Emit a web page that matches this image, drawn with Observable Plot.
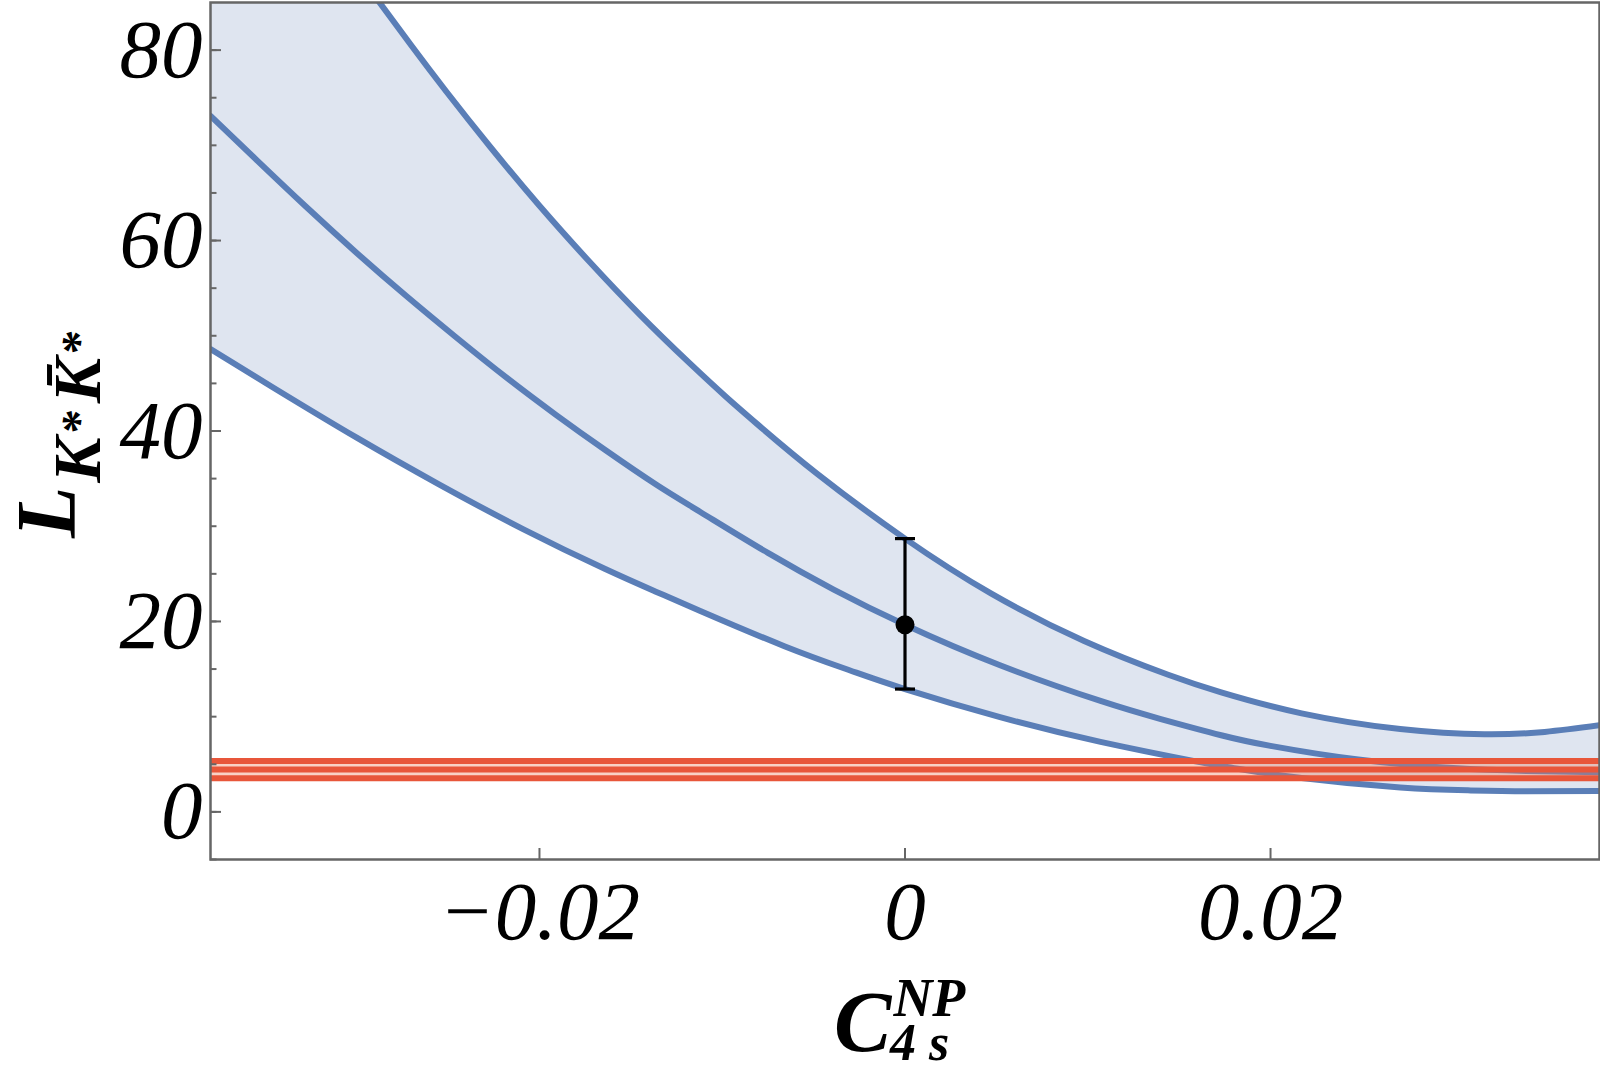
<!DOCTYPE html>
<html>
<head>
<meta charset="utf-8">
<script src="https://cdn.jsdelivr.net/npm/d3@7"></script>
<script src="https://cdn.jsdelivr.net/npm/@observablehq/plot@0.6"></script>
<style>
  html, body { margin: 0; padding: 0; background: white; }
  #chart { width: 1600px; height: 1078px; }
</style>
</head>
<body>
<div id="chart"></div>
<script>
// ---- data ----
const xDomain = [-0.038, 0.038];
const yDomain = [-5, 85];
const xTicks = [-0.02, 0, 0.02];
const xTickLabels = ["\u22120.02", "0", "0.02"];
const yTicks = [0, 20, 40, 60, 80];
const yMinorTicks = [-5, 0, 5, 10, 15, 20, 25, 30, 35, 40, 45, 50, 55, 60, 65, 70, 75, 80];

const upperX = [-0.0290, -0.0270, -0.0251, -0.0227, -0.0200, -0.0173, -0.0145, -0.0118, -0.0098, -0.0081, -0.0048, 0, 0.0047, 0.0098, 0.0144, 0.0173, 0.0217, 0.0271, 0.0317, 0.0350, 0.0380];
const upperY = [85.65, 80.45, 75.65, 69.85, 63.65, 57.85, 52.2, 47.15, 43.6, 40.75, 35.5, 28.7, 22.95, 17.95, 14.4, 12.55, 10.35, 8.7, 8.15, 8.4, 9.1];

const middleX = [-0.038, -0.0355, -0.0328, -0.0300, -0.0273, -0.0246, -0.0218, -0.0191, -0.0164, -0.0136, -0.0112, -0.0075, -0.0039, 0, 0.0052, 0.0107, 0.0140, 0.0173, 0.0200, 0.0248, 0.0300, 0.0340, 0.0380];
const middleY = [73.1, 68.5, 63.6, 58.7, 54.2, 49.9, 45.6, 41.7, 38.0, 34.35, 31.5, 27.2, 23.35, 19.65, 15.4, 11.65, 9.75, 8.05, 6.93, 5.5, 4.6, 4.3, 4.17];

const lowerX = [-0.038, -0.0346, -0.0300, -0.0255, -0.0209, -0.0164, -0.0136, -0.0112, -0.0066, -0.0030, 0, 0.0052, 0.0107, 0.0162, 0.0180, 0.0217, 0.0271, 0.0308, 0.0340, 0.0380];
const lowerY = [48.6, 44.6, 39.3, 34.4, 29.7, 25.5, 23.1, 21.1, 17.4, 14.85, 12.9, 9.95, 7.35, 5.2, 4.6, 3.55, 2.56, 2.26, 2.16, 2.2];

const measurement = [{x: 0, y: 19.65, lo: 12.9, hi: 28.7}];
const redBand = [3.53, 4.45, 5.35];

// ---- styles ----
const blue = "#5a7eb7";
const bandFill = "#dfe5f0";
const red = "#e8563a";
const frameGray = "#666666";
const curve = "natural";
const serif = "'Liberation Serif', 'Times New Roman', serif";

const toPts = (xs, ys) => xs.map((x, i) => ({x, y: ys[i]}));
const upper = toPts(upperX, upperY);
const middle = toPts(middleX, middleY);
const lower = toPts(lowerX, lowerY);
const caps = measurement.flatMap(d => [{x: d.x, y: d.lo}, {x: d.x, y: d.hi}]);

const capSymbol = {
  draw(context, size) {
    const w = Math.sqrt(size / Math.PI);
    context.moveTo(-w, 0);
    context.lineTo(w, 0);
  }
};

const plot = Plot.plot({
  width: 1600,
  height: 1078,
  marginLeft: 210,
  marginRight: 1,
  marginTop: 2,
  marginBottom: 219,
  x: {domain: xDomain},
  y: {domain: yDomain},
  style: {fontFamily: serif, background: "white", overflow: "visible"},
  marks: [
    Plot.areaY(lower, {x: "x", y1: "y", y2: yDomain[1], fill: bandFill, curve, clip: true}),
    Plot.areaY(upper, {x: "x", y1: "y", y2: yDomain[1], fill: "white", curve, clip: true}),
    Plot.line(upper, {x: "x", y: "y", stroke: blue, strokeWidth: 6, curve, clip: true}),
    Plot.line(middle, {x: "x", y: "y", stroke: blue, strokeWidth: 6, curve, clip: true}),
    Plot.line(lower, {x: "x", y: "y", stroke: blue, strokeWidth: 6, curve, clip: true}),
    Plot.areaY(xDomain.map(x => ({x})), {x: "x", y1: redBand[0], y2: redBand[2], fill: "#ee7a5a", fillOpacity: 0.35}),
    Plot.ruleY(redBand, {stroke: red, strokeWidth: 6}),
    Plot.ruleX(measurement, {x: "x", y1: "lo", y2: "hi", stroke: "black", strokeWidth: 3.2}),
    Plot.dot(caps, {x: "x", y: "y", symbol: capSymbol, r: 10, stroke: "black", strokeWidth: 3.2, fill: "none"}),
    Plot.dot(measurement, {x: "x", y: "y", r: 9.5, fill: "black", stroke: null}),
    Plot.frame({stroke: frameGray, strokeWidth: 2.5}),
    Plot.axisY(yMinorTicks, {tickSize: -6.5, tickFormat: () => "", stroke: frameGray, strokeWidth: 2, label: null}),
    Plot.axisY(yTicks, {tickSize: -11, tickFormat: () => "", stroke: frameGray, strokeWidth: 2, label: null}),
    Plot.axisY(yTicks, {tickSize: 0, tickPadding: 8, fontSize: 83, fontStyle: "italic", fontFamily: serif, fill: "black", label: null}),
    Plot.axisX(xTicks, {tickSize: -11, tickFormat: () => "", stroke: frameGray, strokeWidth: 2, label: null}),
    Plot.axisX(xTicks, {tickSize: 0, tickPadding: 21, tickFormat: d => xTickLabels[xTicks.indexOf(d)], fontSize: 83, fontStyle: "italic", fontFamily: serif, fill: "black", label: null})
  ]
});

const svg = d3.select(plot);

// x-axis title: C^{NP}_{4 s}
const xt = svg.append("text")
  .attr("x", 834).attr("y", 1051)
  .attr("text-anchor", "start")
  .attr("font-family", serif).attr("font-weight", "bold").attr("font-style", "italic")
  .attr("fill", "black");
xt.append("tspan").attr("font-size", 86).text("C");
xt.append("tspan").attr("font-size", 54).attr("dy", -35).attr("dx", 2).text("NP");
xt.append("tspan").attr("font-size", 52).attr("x", 890).attr("dy", 44).text("4 s");

// y-axis title: L_{K* K̄*}
const yg = svg.append("g").attr("transform", "translate(75,538) rotate(-90)");
const yt = yg.append("text")
  .attr("text-anchor", "start")
  .attr("font-family", serif).attr("font-weight", "bold").attr("font-style", "italic")
  .attr("fill", "black");
yt.append("tspan").attr("font-size", 84).text("L");
yt.append("tspan").attr("font-size", 68).attr("dy", 25).attr("dx", 4).text("K");
yt.append("tspan").attr("font-size", 48).attr("dy", -5).attr("dx", 2).text("*");
yt.append("tspan").attr("font-size", 68).attr("dy", 5).attr("dx", 8).text("K\u0304");
yt.append("tspan").attr("font-size", 48).attr("dy", -5).attr("dx", 2).text("*");

document.getElementById("chart").appendChild(plot);
</script>
</body>
</html>
